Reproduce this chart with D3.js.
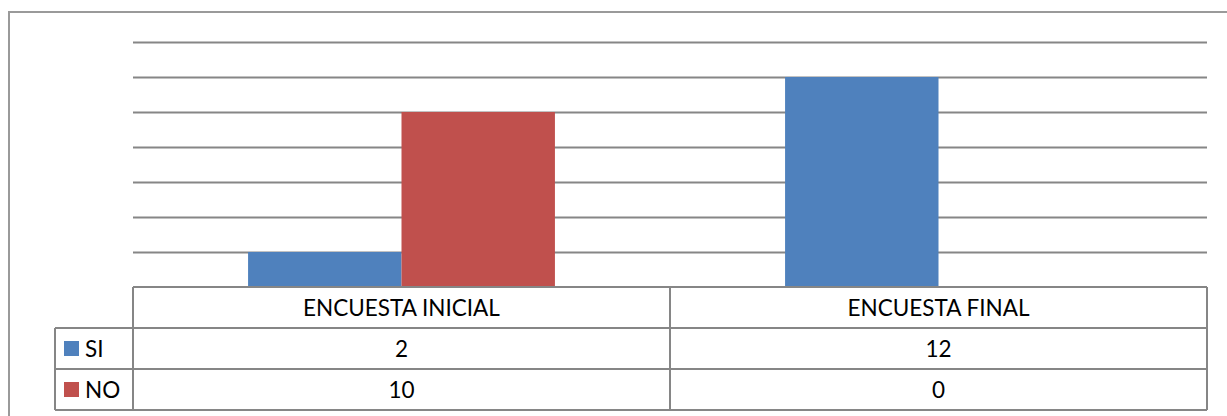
<!DOCTYPE html>
<html>
<head>
  <meta charset="utf-8" />
  <title>Encuesta</title>
  <style>
    body { margin: 0; background: #ffffff; }
    svg text { font-family: Lato, 'Noto Sans', Arial, sans-serif; fill: #000; }
  </style>
  <script type="text/javascript" src="https://cdnjs.cloudflare.com/ajax/libs/d3/7.8.5/d3.min.js"></script>
</head>
<body>
  <div id="chart"></div>
  <script type="text/javascript">
    // data
    var categories = ["ENCUESTA INICIAL", "ENCUESTA FINAL"];
    var seriesNames = ["SI", "NO"];
    var siValues = [2, 12];
    var noValues = [10, 0];
    var gridTicks = [2, 4, 6, 8, 10, 12, 14];

    var colors = { SI: "#4F81BD", NO: "#C0504D" };
    var lineColor = "#868686";

    var w = 1227, h = 416;
    var plot = { left: 133, right: 1207, top: 42, bottom: 287 };
    var rowH = 41;
    var legendLeft = 55;
    var fontSize = "22.5px";

    var seriesValues = { SI: siValues, NO: noValues };

    var svg = d3.select("#chart").append("svg")
      .attr("width", w)
      .attr("height", h);

    // outer chart border (only top and left show in the frame)
    svg.append("path")
      .attr("d", "M9," + (h + 5) + "V12H" + (w + 5))
      .attr("fill", "none")
      .attr("stroke", "#9a9a9a")
      .attr("stroke-width", 2);

    var x = d3.scaleBand()
      .domain(categories)
      .range([plot.left, plot.right])
      .paddingInner(0)
      .paddingOuter(0);

    var xInner = d3.scaleBand()
      .domain(seriesNames)
      .range([0, x.bandwidth()])
      .paddingOuter(0.75)
      .paddingInner(0);

    var y = d3.scaleLinear()
      .domain([0, 14])
      .range([plot.bottom, plot.top]);

    // gridlines
    var grid = svg.append("g")
      .attr("transform", "translate(" + plot.left + ",0)")
      .call(d3.axisLeft(y).tickValues(gridTicks).tickSize(-(plot.right - plot.left)).tickFormat(""));
    grid.select(".domain").remove();
    grid.selectAll("line").attr("stroke", lineColor).attr("stroke-width", 2);

    // bars
    var groups = svg.append("g")
      .selectAll("g")
      .data(categories)
      .enter()
      .append("g")
      .attr("transform", function (d) { return "translate(" + x(d) + ",0)"; });

    groups.selectAll("rect")
      .data(function (d, i) {
        return seriesNames.map(function (s) { return { s: s, v: seriesValues[s][i] }; });
      })
      .enter()
      .append("rect")
      .attr("x", function (d) { return xInner(d.s); })
      .attr("width", xInner.bandwidth())
      .attr("y", function (d) { return y(d.v); })
      .attr("height", function (d) { return y(0) - y(d.v); })
      .attr("fill", function (d) { return colors[d.s]; });

    // data table
    var table = svg.append("g");
    var tTop = plot.bottom;
    var tBottom = tTop + rowH * 3;

    // horizontal lines
    table.append("line")
      .attr("x1", plot.left).attr("x2", plot.right)
      .attr("y1", tTop).attr("y2", tTop);
    [1, 2, 3].forEach(function (r) {
      table.append("line")
        .attr("x1", legendLeft).attr("x2", plot.right)
        .attr("y1", tTop + rowH * r).attr("y2", tTop + rowH * r);
    });
    // vertical lines
    table.append("line")
      .attr("x1", legendLeft).attr("x2", legendLeft)
      .attr("y1", tTop + rowH).attr("y2", tBottom);
    categories.forEach(function (c) {
      table.append("line")
        .attr("x1", x(c)).attr("x2", x(c))
        .attr("y1", tTop).attr("y2", tBottom);
    });
    table.append("line")
      .attr("x1", plot.right).attr("x2", plot.right)
      .attr("y1", tTop).attr("y2", tBottom);
    table.selectAll("line").attr("stroke", lineColor).attr("stroke-width", 2);

    // header text
    table.selectAll("text.cat")
      .data(categories)
      .enter()
      .append("text")
      .attr("class", "cat")
      .attr("x", function (d) { return x(d) + x.bandwidth() / 2; })
      .attr("y", tTop + rowH / 2 + 8)
      .attr("text-anchor", "middle")
      .attr("font-size", fontSize)
      .text(function (d) { return d; });

    // rows
    seriesNames.forEach(function (s, r) {
      var rowY = tTop + rowH * (r + 1);
      table.append("rect")
        .attr("x", 64).attr("y", rowY + 13)
        .attr("width", 15).attr("height", 15)
        .attr("fill", colors[s]);
      table.append("text")
        .attr("x", 85)
        .attr("y", rowY + rowH / 2 + 8)
        .attr("font-size", fontSize)
        .text(s);
      table.selectAll("text.v" + s)
        .data(seriesValues[s])
        .enter()
        .append("text")
        .attr("x", function (d, i) { return x(categories[i]) + x.bandwidth() / 2; })
        .attr("y", rowY + rowH / 2 + 8)
        .attr("text-anchor", "middle")
        .attr("font-size", fontSize)
        .text(function (d) { return d; });
    });
  </script>
</body>
</html>
